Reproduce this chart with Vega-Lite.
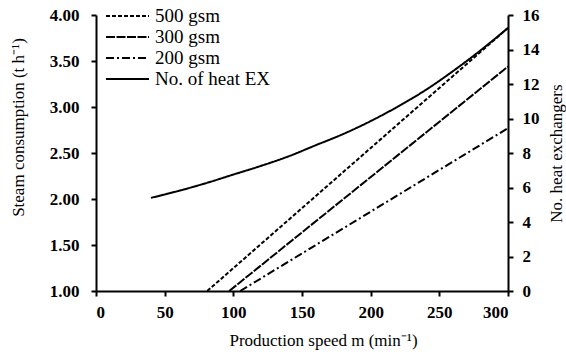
{
  "$schema": "https://vega.github.io/schema/vega-lite/v6.json",
  "width": 412,
  "height": 276,
  "autosize": "none",
  "padding": {"left": 96, "top": 15, "right": 58, "bottom": 71},
  "background": "white",
  "config": {
    "view": {"stroke": null},
    "font": "Liberation Serif",
    "axis": {
      "grid": false,
      "domainColor": "black",
      "domainWidth": 2,
      "tickColor": "black",
      "tickWidth": 2,
      "tickSize": 5,
      "labelColor": "black",
      "labelFont": "Liberation Serif",
      "labelFontSize": 17,
      "labelFontWeight": "bold",
      "titleColor": "black",
      "titleFont": "Liberation Serif",
      "titleFontSize": 17,
      "titleFontWeight": "normal"
    }
  },
  "data": {
    "values": [
      {"series": "500 gsm", "kind": "steam", "speed": 81, "value": 1.0},
      {"series": "500 gsm", "kind": "steam", "speed": 300, "value": 3.86},
      {"series": "300 gsm", "kind": "steam", "speed": 97, "value": 1.0},
      {"series": "300 gsm", "kind": "steam", "speed": 300, "value": 3.44},
      {"series": "200 gsm", "kind": "steam", "speed": 105, "value": 1.0},
      {"series": "200 gsm", "kind": "steam", "speed": 300, "value": 2.77},
      {"series": "No. of heat EX", "kind": "hx", "speed": 40, "value": 5.4},
      {"series": "No. of heat EX", "kind": "hx", "speed": 60, "value": 5.8},
      {"series": "No. of heat EX", "kind": "hx", "speed": 80, "value": 6.25},
      {"series": "No. of heat EX", "kind": "hx", "speed": 100, "value": 6.75},
      {"series": "No. of heat EX", "kind": "hx", "speed": 120, "value": 7.25},
      {"series": "No. of heat EX", "kind": "hx", "speed": 140, "value": 7.8},
      {"series": "No. of heat EX", "kind": "hx", "speed": 160, "value": 8.45},
      {"series": "No. of heat EX", "kind": "hx", "speed": 180, "value": 9.1},
      {"series": "No. of heat EX", "kind": "hx", "speed": 200, "value": 9.85},
      {"series": "No. of heat EX", "kind": "hx", "speed": 220, "value": 10.7},
      {"series": "No. of heat EX", "kind": "hx", "speed": 240, "value": 11.65},
      {"series": "No. of heat EX", "kind": "hx", "speed": 260, "value": 12.75},
      {"series": "No. of heat EX", "kind": "hx", "speed": 280, "value": 13.95},
      {"series": "No. of heat EX", "kind": "hx", "speed": 300, "value": 15.25}
    ]
  },
  "layer": [
    {
      "transform": [{"filter": "datum.kind == 'steam'"}],
      "mark": {"type": "line", "color": "black", "strokeWidth": 2},
      "encoding": {
        "x": {
          "field": "speed", "type": "quantitative",
          "scale": {"domain": [0, 300], "nice": false},
          "axis": {"values": [0, 50, 100, 150, 200, 250, 300], "labelPadding": 8, "titlePadding": 12, "titleX": 227, "title": "Production speed m (min⁻¹)"}
        },
        "y": {
          "field": "value", "type": "quantitative",
          "scale": {"domain": [1, 4], "nice": false, "zero": false},
          "axis": {"orient": "left", "values": [1, 1.5, 2, 2.5, 3, 3.5, 4], "format": ".2f", "labelPadding": 12, "titlePadding": 22, "titleY": 112, "title": "Steam consumption (t h⁻¹)"}
        },
        "strokeDash": {
          "field": "series", "type": "nominal",
          "scale": {"domain": ["500 gsm", "300 gsm", "200 gsm", "No. of heat EX"], "range": [[4, 2], [9, 1.5], [8, 3, 2, 3], [1, 0]]},
          "legend": {
            "orient": "none", "legendX": 20.5, "legendY": -10, "title": null,
            "symbolType": "M-2.15,0L2.15,0", "symbolSize": 400, "symbolStrokeWidth": 2, "symbolStrokeColor": "black", "symbolFillColor": "transparent",
            "labelFont": "Liberation Serif", "labelFontSize": 19, "labelColor": "black",
            "rowPadding": 0, "labelOffset": 16.5
          }
        }
      }
    },
    {
      "transform": [{"filter": "datum.kind == 'hx'"}],
      "mark": {"type": "line", "color": "black", "strokeWidth": 2, "interpolate": "monotone"},
      "encoding": {
        "x": {"field": "speed", "type": "quantitative", "scale": {"domain": [0, 300], "nice": false}},
        "y": {
          "field": "value", "type": "quantitative",
          "scale": {"domain": [0, 16], "nice": false},
          "axis": {"orient": "right", "values": [0, 2, 4, 6, 8, 10, 12, 14, 16], "labelPadding": 9, "titlePadding": 26, "titleAngle": 270, "title": "No. heat exchangers"}
        },
        "strokeDash": {"field": "series", "type": "nominal"}
      }
    }
  ],
  "resolve": {"scale": {"y": "independent"}}
}
